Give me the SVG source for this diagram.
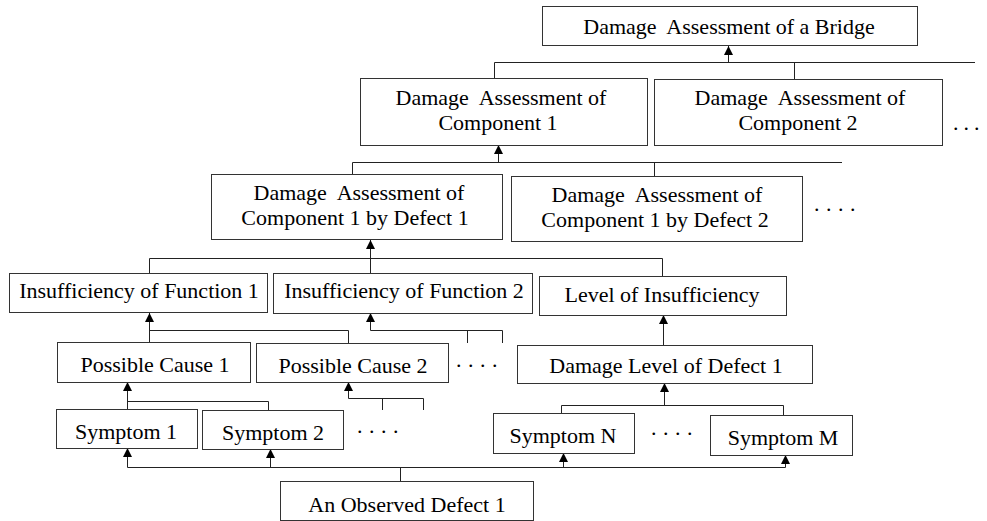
<svg xmlns="http://www.w3.org/2000/svg" width="987" height="521" viewBox="0 0 987 521">
<style>
  .box { fill: #fff; stroke: #333; stroke-width: 1; }
  .t { font-family: "Liberation Serif", "Times New Roman", serif; font-size: 22px; fill: #000; text-anchor: middle; }
  .dots { font-family: "Liberation Serif", "Times New Roman", serif; font-size: 22px; fill: #000; letter-spacing: 6.5px; }
  .c { fill: none; stroke: #222; stroke-width: 1; }
</style>
<defs>
  <marker id="ah" viewBox="0 0 10 10" refX="10" refY="5" markerWidth="10" markerHeight="9" markerUnits="userSpaceOnUse" orient="auto">
    <path d="M0,0 L10,5 L0,10 z" fill="#000"/>
  </marker>
</defs>
<rect width="987" height="521" fill="#fff"/>

<g id="connectors">
  <path class="c" d="M494.5,79 V62.5 H975"/>
  <path class="c" d="M794.5,62.5 V79"/>
  <path class="c" d="M728.5,62.5 V46" marker-end="url(#ah)"/>

  <path class="c" d="M352.5,174 V162.5 H842"/>
  <path class="c" d="M654.5,162.5 V176"/>
  <path class="c" d="M498.5,162.5 V145" marker-end="url(#ah)"/>

  <path class="c" d="M149.5,273 V258.5 H662.5 V276"/>
  <path class="c" d="M370.5,273 V240" marker-end="url(#ah)"/>

  <path class="c" d="M149.5,342 V313" marker-end="url(#ah)"/>
  <path class="c" d="M149.5,330.5 H348.5 V343"/>
  <path class="c" d="M370.5,330.5 V313" marker-end="url(#ah)"/>
  <path class="c" d="M370.5,330.5 H502.5 V343"/>
  <path class="c" d="M467.5,330.5 V343"/>
  <path class="c" d="M663.5,345 V315" marker-end="url(#ah)"/>

  <path class="c" d="M127.5,409 V382" marker-end="url(#ah)"/>
  <path class="c" d="M127.5,401.5 H268.5 V410"/>
  <path class="c" d="M348.5,398.5 V382" marker-end="url(#ah)"/>
  <path class="c" d="M348.5,398.5 H423.5 V410"/>
  <path class="c" d="M382.5,398.5 V410"/>
  <path class="c" d="M664.5,405.5 V383" marker-end="url(#ah)"/>
  <path class="c" d="M561.5,413 V405.5 H783.5 V415"/>

  <path class="c" d="M400.5,481 V467.5"/>
  <path class="c" d="M127.5,467.5 H785.5"/>
  <path class="c" d="M127.5,467.5 V448" marker-end="url(#ah)"/>
  <path class="c" d="M270.5,467.5 V449" marker-end="url(#ah)"/>
  <path class="c" d="M563.5,467.5 V453" marker-end="url(#ah)"/>
  <path class="c" d="M785.5,467.5 V455" marker-end="url(#ah)"/>
</g>

<g id="bridge">
  <rect class="box" x="542.5" y="6.5" width="375" height="39"/>
  <text class="t" x="729" y="34" xml:space="preserve">Damage  Assessment of a Bridge</text>
</g>

<g id="component1">
  <rect class="box" x="360.5" y="78.5" width="287" height="67"/>
  <text class="t" x="501" y="105" xml:space="preserve">Damage  Assessment of</text>
  <text class="t" x="498" y="130">Component 1</text>
</g>
<g id="component2">
  <rect class="box" x="654.5" y="79.5" width="288" height="66"/>
  <text class="t" x="800" y="105" xml:space="preserve">Damage  Assessment of</text>
  <text class="t" x="798" y="130">Component 2</text>
</g>
<text class="dots" x="953" y="130" style="letter-spacing:5px">...</text>

<g id="defect1">
  <rect class="box" x="211.5" y="174.5" width="291" height="65"/>
  <text class="t" x="359" y="200" xml:space="preserve">Damage  Assessment of</text>
  <text class="t" x="355" y="225">Component 1 by Defect 1</text>
</g>
<g id="defect2">
  <rect class="box" x="511.5" y="176.5" width="291" height="65"/>
  <text class="t" x="657" y="202" xml:space="preserve">Damage  Assessment of</text>
  <text class="t" x="655" y="227">Component 1 by Defect 2</text>
</g>
<text class="dots" x="814" y="211">....</text>

<g id="function1">
  <rect class="box" x="9.5" y="273.5" width="258" height="39"/>
  <text class="t" x="139" y="298">Insufficiency of Function 1</text>
</g>
<g id="function2">
  <rect class="box" x="273.5" y="273.5" width="259" height="40"/>
  <text class="t" x="404" y="298">Insufficiency of Function 2</text>
</g>
<g id="level-insufficiency">
  <rect class="box" x="539.5" y="276.5" width="247" height="39"/>
  <text class="t" x="662" y="302">Level of Insufficiency</text>
</g>

<g id="cause1">
  <rect class="box" x="57.5" y="342.5" width="193" height="40"/>
  <text class="t" x="155" y="372">Possible Cause 1</text>
</g>
<g id="cause2">
  <rect class="box" x="256.5" y="343.5" width="192" height="39"/>
  <text class="t" x="353" y="373">Possible Cause 2</text>
</g>
<text class="dots" x="456" y="367">....</text>
<g id="damage-level">
  <rect class="box" x="517.5" y="345.5" width="295" height="38"/>
  <text class="t" x="666" y="373">Damage Level of Defect 1</text>
</g>

<g id="symptom1">
  <rect class="box" x="56.5" y="409.5" width="141" height="39"/>
  <text class="t" x="126" y="439">Symptom 1</text>
</g>
<g id="symptom2">
  <rect class="box" x="202.5" y="410.5" width="141" height="39"/>
  <text class="t" x="273" y="440">Symptom 2</text>
</g>
<text class="dots" x="357" y="433">....</text>
<g id="symptomN">
  <rect class="box" x="493.5" y="413.5" width="141" height="40"/>
  <text class="t" x="563" y="443">Symptom N</text>
</g>
<text class="dots" x="651" y="435">....</text>
<g id="symptomM">
  <rect class="box" x="710.5" y="415.5" width="142" height="40"/>
  <text class="t" x="783" y="445">Symptom M</text>
</g>

<g id="observed-defect">
  <rect class="box" x="280.5" y="481.5" width="253" height="39"/>
  <text class="t" x="407" y="512">An Observed Defect 1</text>
</g>
</svg>
